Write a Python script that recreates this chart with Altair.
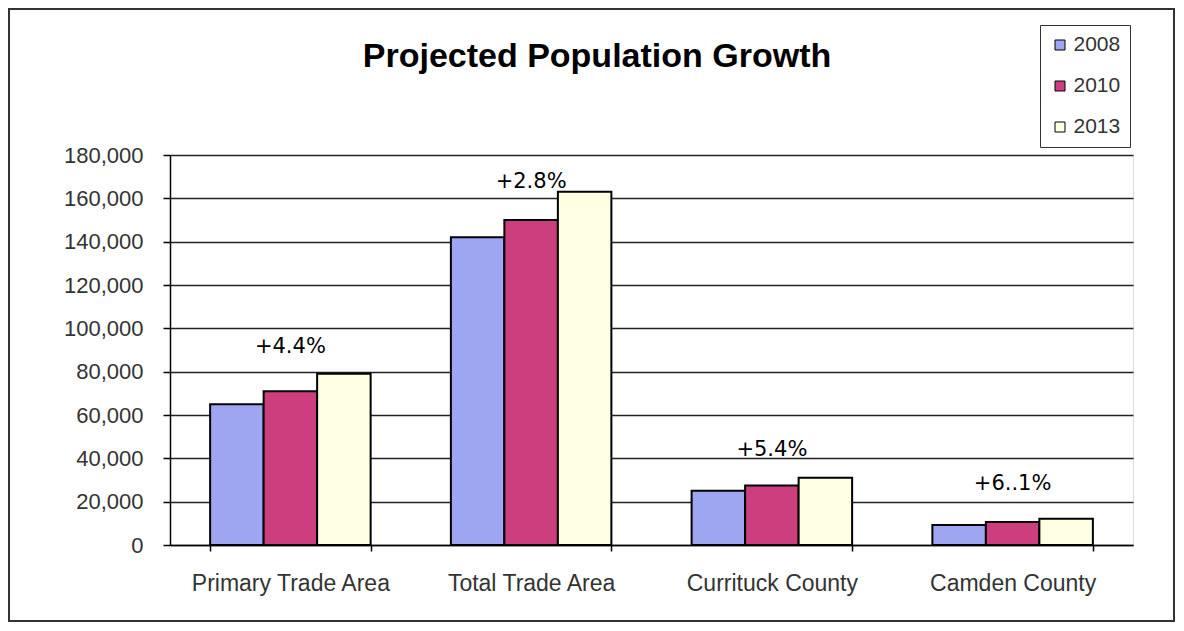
import altair as alt
import pandas as pd

categories = ["Primary Trade Area", "Total Trade Area", "Currituck County", "Camden County"]
years = ["2008", "2010", "2013"]
values_2008 = [65000, 142000, 25000, 9200]
values_2010 = [71000, 150000, 27500, 10600]
values_2013 = [79000, 163000, 31000, 12100]
growth_labels = ["+4.4%", "+2.8%", "+5.4%", "+6..1%"]
growth_label_y = [88600, 164800, 41000, 25400]
y_ticks = [0, 20000, 40000, 60000, 80000, 100000, 120000, 140000, 160000, 180000]
colors = ["#9EA6F2", "#CC3E7E", "#FFFFE4"]
chart_title = "Projected Population Growth"

rows = []
for yr, vals in zip(years, [values_2008, values_2010, values_2013]):
    for c, v in zip(categories, vals):
        rows.append({"category": c, "year": yr, "value": v})
df = pd.DataFrame(rows)
lab_df = pd.DataFrame({"category": categories, "label": growth_labels, "ly": growth_label_y})

FONT = "Liberation Sans"

x_enc = alt.X(
    "category:N",
    sort=categories,
    title=None,
    scale=alt.Scale(paddingInner=1 / 3, paddingOuter=1 / 6),
    axis=alt.Axis(
        labelAngle=0, labelFontSize=23, labelFont=FONT, labelColor="#333", labelLimit=0,
        tickBand="extent", tickSize=6, tickColor="black", tickWidth=1.5,
        domainColor="black", domainWidth=1.5, labelPadding=21, grid=False,
    ),
)

bars = alt.Chart(df).mark_bar(stroke="black", strokeWidth=2).encode(
    x=x_enc,
    xOffset=alt.XOffset("year:N", sort=years, scale=alt.Scale(paddingInner=0, paddingOuter=0)),
    y=alt.Y(
        "value:Q",
        title=None,
        scale=alt.Scale(domain=[0, 180000], nice=False),
        axis=alt.Axis(
            values=y_ticks, format=",d", labelFontSize=22, labelFont=FONT, labelColor="#333",
            labelPadding=20, tickSize=7, tickColor="black", tickWidth=1.5,
            domainColor="black", domainWidth=1.5,
            grid=True, gridColor="#222", gridWidth=1.5,
        ),
    ),
    color=alt.Color(
        "year:N",
        sort=years,
        scale=alt.Scale(domain=years, range=colors),
        legend=alt.Legend(
            orient="none", legendX=870, legendY=-130, title=None,
            symbolType="square", symbolSize=100, symbolStrokeColor="black",
            symbolStrokeWidth=1, labelFontSize=21, labelFont=FONT, labelColor="#333",
            rowPadding=19, padding=9.5, strokeColor="#333", fillColor="white",
            labelOffset=3,
        ),
    ),
)

texts = alt.Chart(lab_df).mark_text(
    font="DejaVu Sans", fontSize=21, color="black", baseline="alphabetic"
).encode(
    x=alt.X("category:N", sort=categories),
    y=alt.Y("ly:Q"),
    text="label:N",
)

one = pd.DataFrame({"a": [0]})

border = alt.Chart(one).mark_rect(
    fillOpacity=0, stroke="#333", strokeWidth=2
).encode(
    x=alt.value(-161), x2=alt.value(1004), y=alt.value(-146), y2=alt.value(466)
)

title_mark = alt.Chart(one).mark_text(
    text=chart_title, font=FONT, fontSize=34, fontWeight="bold", color="black",
    align="center", baseline="alphabetic",
).encode(x=alt.value(427), y=alt.value(-88))

chart = alt.layer(border, bars, texts, title_mark).properties(
    width=963,
    height=390,
    autosize=alt.AutoSizeParams(type="none"),
    padding={"left": 162, "top": 147, "right": 43, "bottom": 78},
).configure_view(stroke="#888", strokeWidth=1).configure(background="white")

chart.save("out.html", embed_options={"renderer": "svg", "actions": False})
